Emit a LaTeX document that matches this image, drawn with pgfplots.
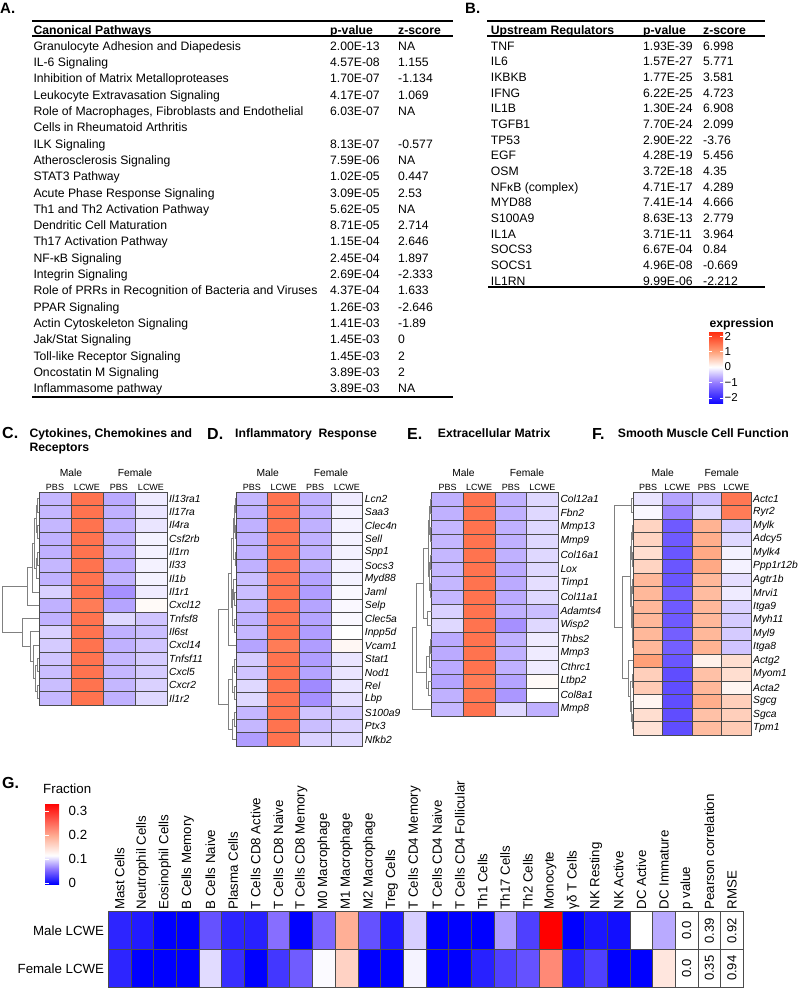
\documentclass[border=0pt]{standalone}
\usepackage{fontspec}
\setmainfont{Liberation Sans}
\usepackage{pgfplots}
\pgfplotsset{compat=1.18}
\newcommand\ft[1]{\fontsize{#1}{#1}\selectfont}

% one rectangular mark per heat-map cell
\pgfdeclareplotmark{cellC}{\pgfpathrectangle{\pgfqpoint{-16pt}{-6.656pt}}{\pgfqpoint{32pt}{13.3125pt}}\pgfusepathqfillstroke}
\pgfdeclareplotmark{cellD}{\pgfpathrectangle{\pgfqpoint{-15.84pt}{-6.684pt}}{\pgfqpoint{31.675pt}{13.368pt}}\pgfusepathqfillstroke}
\pgfdeclareplotmark{cellE}{\pgfpathrectangle{\pgfqpoint{-15.825pt}{-7pt}}{\pgfqpoint{31.65pt}{14pt}}\pgfusepathqfillstroke}
\pgfdeclareplotmark{cellF}{\pgfpathrectangle{\pgfqpoint{-14.71pt}{-6.75pt}}{\pgfqpoint{29.425pt}{13.5pt}}\pgfusepathqfillstroke}
\pgfdeclareplotmark{cellG}{\pgfpathrectangle{\pgfqpoint{-11.34pt}{-18.875pt}}{\pgfqpoint{22.68pt}{37.75pt}}\pgfusepathqfillstroke}

\pgfplotsset{
  colormap={frac}{rgb255(0pt)=(0,0,255); rgb255(6pt)=(135,110,255); rgb255(12pt)=(255,255,255); rgb255(20pt)=(255,175,150); rgb255(34pt)=(255,0,0)},
  colormap={expr}{rgb255(0pt)=(20,10,255); rgb255(133pt)=(150,125,255); rgb255(233pt)=(255,255,255); rgb255(333pt)=(255,160,120); rgb255(466pt)=(255,40,10)},
  hmaxis/.style={scale only axis, anchor=north west, y dir=reverse, clip=false,
    axis line style={draw=none}, tick style={draw=none},
    colormap name=expr, point meta min=-2.33, point meta max=2.33,
    xmin=-0.5, xmax=3.5, ymin=-0.5,
    xtick={0,1,2,3}, xticklabels={PBS,LCWE,PBS,LCWE}, xticklabel pos=top,
    xticklabel style={font=\ft{9}, inner sep=1.5pt},
    yticklabel pos=right, yticklabel style={font=\ft{10.3}\itshape, inner sep=2pt}},
  hmcells/.style={scatter, only marks, point meta=explicit, mark options={solid, line width=0.5pt},
    scatter/use mapped color={draw=black!70, fill=mapped color}},
  dgaxis/.style={scale only axis, anchor=north west, hide axis, clip=false, x dir=reverse, y dir=reverse, xmin=0},
  dgline/.style={sharp plot, point meta=none, mark=none, draw=black!50, line width=0.6pt, unbounded coords=jump}
}

\begin{document}
\begin{tikzpicture}
\path[use as bounding box] (0pt,0pt) rectangle (800pt,-988pt);

% ---------- C ----------
\begin{axis}[hmaxis, at={(39pt,-492pt)}, width=128pt, height=213pt, ymax=15.5,
  ytick={0,...,15}, yticklabels={Il13ra1,Il17ra,Il4ra,Csf2rb,Il1rn,Il33,Il1b,Il1r1,Cxcl12,Tnfsf8,Il6st,Cxcl14,Tnfsf11,Cxcl5,Cxcr2,Il1r2}]
\addplot[hmcells, mark=cellC] table[row sep=\\, meta=c] {
x y c\\
0 0 -0.55\\ 1 0 1.5\\ 2 0 -0.65\\ 3 0 -0.15\\
0 1 -0.55\\ 1 1 1.5\\ 2 1 -0.6\\ 3 1 -0.2\\
0 2 -0.55\\ 1 2 1.5\\ 2 2 -0.6\\ 3 2 -0.2\\
0 3 -0.6\\ 1 3 1.5\\ 2 3 -0.6\\ 3 3 -0.1\\
0 4 -0.6\\ 1 4 1.5\\ 2 4 -0.6\\ 3 4 -0.1\\
0 5 -0.55\\ 1 5 1.5\\ 2 5 -0.65\\ 3 5 -0.1\\
0 6 -0.6\\ 1 6 1.5\\ 2 6 -0.6\\ 3 6 -0.1\\
0 7 -0.35\\ 1 7 1.5\\ 2 7 -0.85\\ 3 7 -0.15\\
0 8 -0.6\\ 1 8 1.4\\ 2 8 -0.7\\ 3 8 0.05\\
0 9 -0.6\\ 1 9 1.5\\ 2 9 -0.3\\ 3 9 -0.45\\
0 10 -0.35\\ 1 10 1.5\\ 2 10 -0.6\\ 3 10 -0.5\\
0 11 -0.4\\ 1 11 1.5\\ 2 11 -0.6\\ 3 11 -0.45\\
0 12 -0.45\\ 1 12 1.5\\ 2 12 -0.55\\ 3 12 -0.4\\
0 13 -0.5\\ 1 13 1.5\\ 2 13 -0.55\\ 3 13 -0.4\\
0 14 -0.5\\ 1 14 1.5\\ 2 14 -0.55\\ 3 14 -0.35\\
0 15 -0.55\\ 1 15 1.5\\ 2 15 -0.6\\ 3 15 -0.3\\
};
\end{axis}
\begin{axis}[dgaxis, at={(1pt,-492pt)}, width=38pt, height=213pt, xmax=38, ymin=0.5, ymax=16.5]
\addplot[dgline] coordinates {
(0,1)(1.5,1)(1.5,2)(0,2) (0,nan)
(0,3)(1.5,3)(1.5,4)(0,4) (0,nan)
(0,5)(1.5,5)(1.5,6)(0,6) (0,nan)
(1.5,5.5)(3,5.5)(3,7)(0,7) (0,nan)
(1.5,1.5)(3,1.5)(3,3.5)(1.5,3.5) (0,nan)
(3,2.5)(4.5,2.5)(4.5,6.25)(3,6.25) (0,nan)
(4.5,4.375)(7,4.375)(7,8)(0,8) (0,nan)
(7,6.19)(12,6.19)(12,9)(0,9) (0,nan)
(0,13)(2,13)(2,14)(0,14) (0,nan)
(0,15)(2,15)(2,16)(0,16) (0,nan)
(2,13.5)(4,13.5)(4,15.5)(2,15.5) (0,nan)
(0,12)(6,12)(6,14.5)(4,14.5) (0,nan)
(0,11)(9,11)(9,13.25)(6,13.25) (0,nan)
(0,10)(17,10)(17,12.125)(9,12.125) (0,nan)
(12,7.6)(37,7.6)(37,11.06)(17,11.06)
};
\end{axis}

% ---------- D ----------
\begin{axis}[hmaxis, at={(236pt,-492pt)}, width=126.7pt, height=254pt, ymax=18.5,
  ytick={0,...,18}, yticklabels={Lcn2,Saa3,Clec4n,Sell,Spp1,Socs3,Myd88,Jaml,Selp,Clec5a,Inpp5d,Vcam1,Stat1,Nod1,Rel,Lbp,S100a9,Ptx3,Nfkb2}]
\addplot[hmcells, mark=cellD] table[row sep=\\, meta=c] {
x y c\\
0 0 -0.55\\ 1 0 1.5\\ 2 0 -0.6\\ 3 0 -0.15\\
0 1 -0.6\\ 1 1 1.5\\ 2 1 -0.6\\ 3 1 -0.1\\
0 2 -0.6\\ 1 2 1.5\\ 2 2 -0.6\\ 3 2 -0.1\\
0 3 -0.6\\ 1 3 1.5\\ 2 3 -0.6\\ 3 3 -0.1\\
0 4 -0.6\\ 1 4 1.5\\ 2 4 -0.6\\ 3 4 -0.1\\
0 5 -0.6\\ 1 5 1.5\\ 2 5 -0.6\\ 3 5 -0.1\\
0 6 -0.5\\ 1 6 1.5\\ 2 6 -0.7\\ 3 6 -0.1\\
0 7 -0.5\\ 1 7 1.5\\ 2 7 -0.75\\ 3 7 -0.05\\
0 8 -0.55\\ 1 8 1.5\\ 2 8 -0.7\\ 3 8 -0.05\\
0 9 -0.6\\ 1 9 1.5\\ 2 9 -0.7\\ 3 9 -0.05\\
0 10 -0.55\\ 1 10 1.5\\ 2 10 -0.75\\ 3 10 0\\
0 11 -0.7\\ 1 11 1.4\\ 2 11 -0.75\\ 3 11 0.08\\
0 12 -0.4\\ 1 12 1.5\\ 2 12 -0.75\\ 3 12 -0.2\\
0 13 -0.45\\ 1 13 1.5\\ 2 13 -0.7\\ 3 13 -0.2\\
0 14 -0.3\\ 1 14 1.5\\ 2 14 -0.9\\ 3 14 -0.2\\
0 15 -0.3\\ 1 15 1.5\\ 2 15 -0.85\\ 3 15 -0.25\\
0 16 -0.55\\ 1 16 1.5\\ 2 16 -0.45\\ 3 16 -0.4\\
0 17 -0.55\\ 1 17 1.5\\ 2 17 -0.5\\ 3 17 -0.35\\
0 18 -0.75\\ 1 18 1.5\\ 2 18 -0.35\\ 3 18 -0.3\\
};
\end{axis}
\begin{axis}[dgaxis, at={(218pt,-492pt)}, width=18pt, height=254pt, xmax=18, ymin=0.5, ymax=19.5]
\addplot[dgline] coordinates {
(0,1)(1,1)(1,2)(0,2) (0,nan)
(0,3)(1,3)(1,4)(0,4) (0,nan)
(1,1.5)(2,1.5)(2,3.5)(1,3.5) (0,nan)
(0,5)(1,5)(1,6)(0,6) (0,nan)
(2,2.5)(3,2.5)(3,5.5)(1,5.5) (0,nan)
(0,8)(1.5,8)(1.5,9)(0,9) (0,nan)
(0,7)(2.5,7)(2.5,8.5)(1.5,8.5) (0,nan)
(0,10)(1.5,10)(1.5,11)(0,11) (0,nan)
(2.5,7.75)(3.5,7.75)(3.5,10.5)(1.5,10.5) (0,nan)
(3,4)(5,4)(5,9.125)(3.5,9.125) (0,nan)
(5,6.56)(8,6.56)(8,12)(0,12) (0,nan)
(0,13)(2,13)(2,14)(0,14) (0,nan)
(0,15)(2,15)(2,16)(0,16) (0,nan)
(2,13.5)(4,13.5)(4,15.5)(2,15.5) (0,nan)
(0,17)(2,17)(2,18)(0,18) (0,nan)
(2,17.5)(4,17.5)(4,19)(0,19) (0,nan)
(4,14.5)(8,14.5)(8,18.25)(4,18.25) (0,nan)
(8,9.28)(17.5,9.28)(17.5,16.375)(8,16.375)
};
\end{axis}

% ---------- E ----------
\begin{axis}[hmaxis, at={(431.7pt,-492pt)}, width=126.6pt, height=224pt, ymax=15.5,
  ytick={0,...,15}, yticklabels={Col12a1,Fbn2,Mmp13,Mmp9,Col16a1,Lox,Timp1,Col11a1,Adamts4,Wisp2,Thbs2,Mmp3,Cthrc1,Ltbp2,Col8a1,Mmp8}]
\addplot[hmcells, mark=cellE] table[row sep=\\, meta=c] {
x y c\\
0 0 -0.6\\ 1 0 1.5\\ 2 0 -0.6\\ 3 0 -0.3\\
0 1 -0.6\\ 1 1 1.5\\ 2 1 -0.6\\ 3 1 -0.3\\
0 2 -0.55\\ 1 2 1.5\\ 2 2 -0.6\\ 3 2 -0.3\\
0 3 -0.55\\ 1 3 1.5\\ 2 3 -0.6\\ 3 3 -0.3\\
0 4 -0.55\\ 1 4 1.5\\ 2 4 -0.6\\ 3 4 -0.3\\
0 5 -0.55\\ 1 5 1.5\\ 2 5 -0.65\\ 3 5 -0.3\\
0 6 -0.55\\ 1 6 1.5\\ 2 6 -0.65\\ 3 6 -0.25\\
0 7 -0.55\\ 1 7 1.5\\ 2 7 -0.65\\ 3 7 -0.3\\
0 8 -0.35\\ 1 8 1.5\\ 2 8 -0.6\\ 3 8 -0.5\\
0 9 -0.3\\ 1 9 1.5\\ 2 9 -0.85\\ 3 9 -0.3\\
0 10 -0.65\\ 1 10 1.5\\ 2 10 -0.6\\ 3 10 -0.15\\
0 11 -0.65\\ 1 11 1.5\\ 2 11 -0.6\\ 3 11 -0.15\\
0 12 -0.65\\ 1 12 1.5\\ 2 12 -0.6\\ 3 12 -0.15\\
0 13 -0.7\\ 1 13 1.4\\ 2 13 -0.7\\ 3 13 0.05\\
0 14 -0.6\\ 1 14 1.45\\ 2 14 -0.8\\ 3 14 0\\
0 15 -0.55\\ 1 15 1.5\\ 2 15 -0.3\\ 3 15 -0.6\\
};
\end{axis}
\begin{axis}[dgaxis, at={(411pt,-492pt)}, width=20.7pt, height=224pt, xmax=20.7, ymin=0.5, ymax=16.5]
\addplot[dgline] coordinates {
(0,1)(1,1)(1,2)(0,2) (0,nan)
(0,3)(1,3)(1,4)(0,4) (0,nan)
(1,1.5)(2,1.5)(2,3.5)(1,3.5) (0,nan)
(0,5)(1,5)(1,6)(0,6) (0,nan)
(0,7)(1,7)(1,8)(0,8) (0,nan)
(1,5.5)(2,5.5)(2,7.5)(1,7.5) (0,nan)
(2,2.5)(3,2.5)(3,6.5)(2,6.5) (0,nan)
(0,9)(4,9)(4,10)(0,10) (0,nan)
(3,4.5)(8,4.5)(8,9.5)(4,9.5) (0,nan)
(0,11)(1,11)(1,12)(0,12) (0,nan)
(1,11.5)(2,11.5)(2,13)(0,13) (0,nan)
(0,14)(3,14)(3,15)(0,15) (0,nan)
(2,12.25)(5,12.25)(5,14.5)(3,14.5) (0,nan)
(8,7)(15,7)(15,13.375)(5,13.375) (0,nan)
(15,10.19)(19.5,10.19)(19.5,16)(0,16)
};
\end{axis}

% ---------- F ----------
\begin{axis}[hmaxis, at={(633.3pt,-492pt)}, width=117.7pt, height=243pt, ymax=17.5,
  ytick={0,...,17}, yticklabels={Actc1,Ryr2,Mylk,Adcy5,Mylk4,Ppp1r12b,Agtr1b,Mrvi1,Itga9,Myh11,Myl9,Itga8,Actg2,Myom1,Acta2,Sgcg,Sgca,Tpm1}]
\addplot[hmcells, mark=cellF] table[row sep=\\, meta=c] {
x y c\\
0 0 -0.2\\ 1 0 -0.7\\ 2 0 -0.5\\ 3 0 1.45\\
0 1 -0.05\\ 1 1 -0.95\\ 2 1 -0.3\\ 3 1 1.4\\
0 2 0.45\\ 1 2 -1.4\\ 2 2 0.8\\ 3 2 -0.4\\
0 3 0.45\\ 1 3 -1.4\\ 2 3 0.85\\ 3 3 -0.3\\
0 4 0.35\\ 1 4 -1.45\\ 2 4 0.9\\ 3 4 -0.1\\
0 5 0.45\\ 1 5 -1.45\\ 2 5 0.9\\ 3 5 -0.1\\
0 6 0.75\\ 1 6 -1.45\\ 2 6 0.75\\ 3 6 -0.25\\
0 7 0.75\\ 1 7 -1.35\\ 2 7 0.7\\ 3 7 -0.15\\
0 8 0.75\\ 1 8 -1.4\\ 2 8 0.75\\ 3 8 -0.35\\
0 9 0.75\\ 1 9 -1.4\\ 2 9 0.75\\ 3 9 -0.4\\
0 10 0.75\\ 1 10 -1.35\\ 2 10 0.75\\ 3 10 -0.4\\
0 11 0.75\\ 1 11 -1.35\\ 2 11 0.8\\ 3 11 -0.45\\
0 12 1.0\\ 1 12 -1.45\\ 2 12 0.15\\ 3 12 0.35\\
0 13 0.5\\ 1 13 -1.55\\ 2 13 0.65\\ 3 13 0.35\\
0 14 0.55\\ 1 14 -1.55\\ 2 14 0.75\\ 3 14 0.1\\
0 15 0.1\\ 1 15 -1.55\\ 2 15 0.85\\ 3 15 0.5\\
0 16 0.35\\ 1 16 -1.55\\ 2 16 0.65\\ 3 16 0.5\\
0 17 0.3\\ 1 17 -1.55\\ 2 17 0.7\\ 3 17 0.55\\
};
\end{axis}
\begin{axis}[dgaxis, at={(613pt,-492pt)}, width=20.3pt, height=243pt, xmax=20.3, ymin=0.5, ymax=18.5]
\addplot[dgline] coordinates {
(0,1)(2,1)(2,2)(0,2) (0,nan)
(0,3)(1,3)(1,4)(0,4) (0,nan)
(0,5)(1,5)(1,6)(0,6) (0,nan)
(1,3.5)(2,3.5)(2,5.5)(1,5.5) (0,nan)
(0,7)(1,7)(1,8)(0,8) (0,nan)
(0,9)(1,9)(1,10)(0,10) (0,nan)
(0,11)(1,11)(1,12)(0,12) (0,nan)
(1,9.5)(1.5,9.5)(1.5,11.5)(1,11.5) (0,nan)
(1,7.5)(2,7.5)(2,10.5)(1.5,10.5) (0,nan)
(2,4.5)(3.5,4.5)(3.5,9)(2,9) (0,nan)
(0,14)(1.5,14)(1.5,15)(0,15) (0,nan)
(0,17)(1.5,17)(1.5,18)(0,18) (0,nan)
(0,16)(2.5,16)(2.5,17.5)(1.5,17.5) (0,nan)
(1.5,14.5)(3.5,14.5)(3.5,16.75)(2.5,16.75) (0,nan)
(0,13)(5,13)(5,15.625)(3.5,15.625) (0,nan)
(3.5,6.75)(11,6.75)(11,14.31)(5,14.31) (0,nan)
(2,1.5)(19,1.5)(19,10.53)(11,10.53)
};
\end{axis}

% ---------- expression colour bar ----------
\begin{axis}[at={(709pt,-331pt)}, anchor=north west, hide axis, scale only axis,
  width=1pt, height=1pt, xmin=0, xmax=1, ymin=0, ymax=1,
  colormap name=expr, point meta min=-2.33, point meta max=2.33, colorbar,
  colorbar style={at={(0,1)}, anchor=north west, scale only axis, width=14pt, height=72pt,
    axis line style={draw=none}, ytick={-2,-1,0,1,2}, yticklabels={−2,−1,0,1,2},
    ytick pos=both, yticklabel pos=right,
    yticklabel style={font=\ft{11.5}, inner sep=1.5pt}, tick align=inside,
    major tick length=3pt, ytick style={draw=white, line width=0.7pt}}]
\addplot[sharp plot, point meta=none, mark=none, draw=none] coordinates {(0,0)};
\end{axis}

% ---------- G ----------
\begin{axis}[scale only axis, anchor=north west, at={(108.3pt,-911.7pt)}, width=635pt, height=75.5pt,
  y dir=reverse, clip=false, xmin=-0.5, xmax=27.5, ymin=-0.5, ymax=1.5,
  axis line style={draw=none}, tick style={draw=none},
  colormap name=frac, point meta min=0, point meta max=0.34,
  xtick={0,...,27},
  xticklabels={Mast Cells,Neutrophil Cells,Eosinophil Cells,B Cells Memory,B Cells Naive,Plasma Cells,T Cells CD8 Active,T Cells CD8 Naive,T Cells CD8 Memory,M0 Macrophage,M1 Macrophage,M2 Macrophage,Treg Cells,T Cells CD4 Memory,T Cells CD4 Naive,T Cells CD4 Follicular,Th1 Cells,Th17 Cells,Th2 Cells,Monocyte,γδ T Cells,NK Resting,NK Active,DC Active,DC Immature,p value,Pearson correlation,RMSE},
  xticklabel pos=top, xticklabel style={rotate=90, anchor=west, font=\ft{13.3}, inner sep=2pt},
  ytick={0,1}, yticklabels={Male LCWE,Female LCWE}, yticklabel style={font=\ft{13.3}, inner sep=4pt}]
\addplot[hmcells, mark=cellG] table[row sep=\\, meta=c] {
x y c\\
0 0 0.02\\ 1 0 0.015\\ 2 0 0\\ 3 0 0\\ 4 0 0.045\\ 5 0 0.02\\ 6 0 0.018\\ 7 0 0.06\\ 8 0 0\\ 9 0 0.055\\ 10 0 0.2\\ 11 0 0.045\\ 12 0 0.015\\
13 0 0.1\\ 14 0 0\\ 15 0 0\\ 16 0 0\\ 17 0 0.08\\ 18 0 0.035\\ 19 0 0.34\\ 20 0 0\\ 21 0 0.012\\ 22 0 0.008\\ 23 0 0.12\\ 24 0 0.085\\
25 0 0.12\\ 26 0 0.12\\ 27 0 0.12\\
0 1 0.02\\ 1 1 0\\ 2 1 0\\ 3 1 0\\ 4 1 0.105\\ 5 1 0.025\\ 6 1 0\\ 7 1 0.03\\ 8 1 0.05\\ 9 1 0.118\\ 10 1 0.165\\ 11 1 0\\ 12 1 0\\
13 1 0.115\\ 14 1 0\\ 15 1 0\\ 16 1 0.018\\ 17 1 0.035\\ 18 1 0.045\\ 19 1 0.23\\ 20 1 0.018\\ 21 1 0.035\\ 22 1 0\\ 23 1 0\\ 24 1 0.145\\
25 1 0.12\\ 26 1 0.12\\ 27 1 0.12\\
};
\addplot[sharp plot, draw=none, mark=none, point meta=explicit symbolic, nodes near coords,
  every node near coord/.style={rotate=90, anchor=center, font=\ft{13}}] table[row sep=\\, meta=t] {
x y t\\
25 0 0.0\\ 26 0 0.39\\ 27 0 0.92\\
25 1 0.0\\ 26 1 0.35\\ 27 1 0.94\\
};
\end{axis}

% ---------- fraction colour bar ----------
\begin{axis}[at={(45pt,-803pt)}, anchor=north west, hide axis, scale only axis,
  width=1pt, height=1pt, xmin=0, xmax=1, ymin=0, ymax=1,
  colormap name=frac, point meta min=-0.003, point meta max=0.335, colorbar,
  colorbar style={at={(0,1)}, anchor=north west, scale only axis, width=22pt, height=81pt,
    axis line style={draw=none}, ytick={0,0.1,0.2,0.3}, yticklabels={0,0.1,0.2,0.3},
    ytick pos=both, yticklabel pos=right,
    yticklabel style={font=\ft{13.3}, inner sep=1.5pt}, tick align=inside,
    major tick length=4pt, ytick style={draw=white, line width=0.8pt}}]
\addplot[sharp plot, point meta=none, mark=none, draw=none] coordinates {(0,0)};
\end{axis}

% ---------- text ----------
\begin{scope}[x=1pt,y=-1pt]
\ft{12.2}
% table A
\node[anchor=base west, font=\ft{15}\bfseries, inner sep=0] at (0,13.5) {A.};
\draw[line width=1.8pt] (32,21) -- (453,21);
\node[anchor=base west, font=\ft{12.2}\bfseries, inner sep=0] at (33.3,34.3) {Canonical Pathways};
\node[anchor=base west, font=\ft{12.2}\bfseries, inner sep=0] at (330,34.3) {p-value};
\node[anchor=base west, font=\ft{12.2}\bfseries, inner sep=0] at (398,34.3) {z-score};
\draw[line width=1.2pt] (32,36) -- (453,36);
\draw[line width=1.8pt] (32,397) -- (453,397);
\foreach[count=\i from 0] \n/\p/\z in {
 Granulocyte Adhesion and Diapedesis/2.00E-13/NA,
 IL-6 Signaling/4.57E-08/1.155,
 Inhibition of Matrix Metalloproteases/1.70E-07/-1.134,
 Leukocyte Extravasation Signaling/4.17E-07/1.069,
 {Role of Macrophages, Fibroblasts and Endothelial}/6.03E-07/NA,
 Cells in Rheumatoid Arthritis//,
 ILK Signaling/8.13E-07/-0.577,
 Atherosclerosis Signaling/7.59E-06/NA,
 STAT3 Pathway/1.02E-05/0.447,
 Acute Phase Response Signaling/3.09E-05/2.53,
 Th1 and Th2 Activation Pathway/5.62E-05/NA,
 Dendritic Cell Maturation/8.71E-05/2.714,
 Th17 Activation Pathway/1.15E-04/2.646,
 NF-κB Signaling/2.45E-04/1.897,
 Integrin Signaling/2.69E-04/-2.333,
 Role of PRRs in Recognition of Bacteria and Viruses/4.37E-04/1.633,
 PPAR Signaling/1.26E-03/-2.646,
 Actin Cytoskeleton Signaling/1.41E-03/-1.89,
 {Jak/Stat Signaling}/1.45E-03/0,
 Toll-like Receptor Signaling/1.45E-03/2,
 Oncostatin M Signaling/3.89E-03/2,
 Inflammasome pathway/3.89E-03/NA}{
 \node[anchor=base west, inner sep=0] at (33.3,{50.3+16.3*\i}) {\n};
 \node[anchor=base west, inner sep=0] at (330,{50.3+16.3*\i}) {\p};
 \node[anchor=base west, inner sep=0] at (398,{50.3+16.3*\i}) {\z};
}
% table B
\node[anchor=base west, font=\ft{15}\bfseries, inner sep=0] at (465,13.5) {B.};
\draw[line width=1.8pt] (487,21) -- (765,21);
\node[anchor=base west, font=\ft{12.2}\bfseries, inner sep=0] at (490.7,34.3) {Upstream Regulators};
\node[anchor=base west, font=\ft{12.2}\bfseries, inner sep=0] at (643,34.3) {p-value};
\node[anchor=base west, font=\ft{12.2}\bfseries, inner sep=0] at (703,34.3) {z-score};
\draw[line width=1.2pt] (487,36) -- (765,36);
\draw[line width=1.8pt] (488,286.7) -- (765,286.7);
\foreach[count=\i from 0] \n/\p/\z in {
 TNF/1.93E-39/6.998, IL6/1.57E-27/5.771, IKBKB/1.77E-25/3.581,
 IFNG/6.22E-25/4.723, IL1B/1.30E-24/6.908, TGFB1/7.70E-24/2.099,
 TP53/2.90E-22/-3.76, EGF/4.28E-19/5.456, OSM/3.72E-18/4.35,
 NFκB (complex)/4.71E-17/4.289, MYD88/7.41E-14/4.666, S100A9/8.63E-13/2.779,
 IL1A/3.71E-11/3.964, SOCS3/6.67E-04/0.84, SOCS1/4.96E-08/-0.669,
 IL1RN/9.99E-06/-2.212}{
 \node[anchor=base west, inner sep=0] at (490.7,{50.3+15.65*\i}) {\n};
 \node[anchor=base west, inner sep=0] at (643,{50.3+15.65*\i}) {\p};
 \node[anchor=base west, inner sep=0] at (703,{50.3+15.65*\i}) {\z};
}
\node[anchor=base west, font=\ft{12.2}\bfseries, inner sep=0] at (709.3,327) {expression};

% panel titles
\node[anchor=base west, font=\ft{16}\bfseries, inner sep=0] at (2,438.5) {C.};
\node[anchor=base west, font=\ft{12.2}\bfseries, inner sep=0] at (29.3,437.5) {Cytokines, Chemokines and};
\node[anchor=base west, font=\ft{12.2}\bfseries, inner sep=0] at (29.3,451.5) {Receptors};
\node[anchor=base west, font=\ft{16}\bfseries, inner sep=0] at (207,439) {D.};
\node[anchor=base west, font=\ft{12.2}\bfseries, inner sep=0] at (235,437.5) {Inflammatory\ \ Response};
\node[anchor=base west, font=\ft{16}\bfseries, inner sep=0] at (407,439) {E.};
\node[anchor=base west, font=\ft{12.2}\bfseries, inner sep=0] at (437.7,437.5) {Extracellular Matrix};
\node[anchor=base west, font=\ft{16}\bfseries, inner sep=0] at (592,439) {F.};
\node[anchor=base west, font=\ft{12.2}\bfseries, inner sep=0] at (617.7,437.5) {Smooth Muscle Cell Function};
\node[anchor=base west, font=\ft{16}\bfseries, inner sep=0] at (2,788) {G.};
\node[anchor=base west, font=\ft{13.3}, inner sep=0] at (43,793) {Fraction};

% group headers
\foreach \m/\f in {71/135, 267.7/331, 463.5/527, 662.7/721.7}{
 \node[anchor=base, font=\ft{10.3}, inner sep=0] at (\m,476) {Male};
 \node[anchor=base, font=\ft{10.3}, inner sep=0] at (\f,476) {Female};
}
\end{scope}
\end{tikzpicture}
\end{document}
